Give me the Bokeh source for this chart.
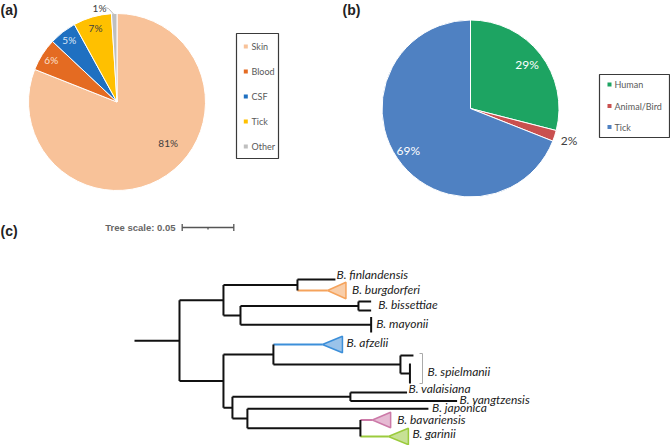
import numpy as np
from bokeh.plotting import figure
from bokeh.models import Range1d
from bokeh.core.properties import value
from bokeh.embed import file_html
from bokeh.resources import INLINE

# ---------------- data ----------------
a_categories = ["Skin", "Blood", "CSF", "Tick", "Other"]
a_values = [81, 6, 5, 7, 1]
a_labels = ["81%", "6%", "5%", "7%", "1%"]

b_categories = ["Human", "Animal/Bird", "Tick"]
b_values = [29, 2, 69]
b_labels = ["29%", "2%", "69%"]

tree_scale_value = 0.05

def node(name, bl, children=(), clade=None, color="#111111"):
    return {"name": name, "bl": bl, "children": list(children), "clade": clade, "color": color}

# branch lengths (substitutions/site) read from the tree
tree = node("root", 0.0436, [
    node("", 0.0426, [
        node("", 0.0717, [
            node("B. finlandensis", 0.0368),
            node("B. burgdorferi", 0.0291, clade=0.0179, color="#F5A35C")]),
        node("", 0.0165, [
            node("B. bissettiae", 0.1143, [node("bis1", 0.0123), node("bis2", 0.0123)]),
            node("B. mayonii", 0.1266, [node("may1", 0.0), node("may2", 0.0)])])]),
    node("", 0.0426, [
        node("", 0.0484, [
            node("B. afzelii", 0.0475, clade=0.0194, color="#3C8FD9"),
            node("B. spielmanii", 0.1231, [
                node("spi1", 0.0126),
                node("", 0.0092, [node("spi2", 0.0), node("spi3", 0.0)])])]),
        node("", 0.0087, [
            node("", 0.1143, [node("B. valaisiana", 0.0549), node("B. yangtzensis", 0.1034)]),
            node("", 0.0145, [
                node("B. japonica", 0.1754),
                node("", 0.1095, [
                    node("B. bavariensis", 0.0116, clade=0.0177, color="#CC7AA8"),
                    node("B. garinii", 0.0271, clade=0.0194, color="#9BCB3C")])])])]),
])

# ---------------- layout / style ----------------
a_colors = ["#F8C299", "#E46B22", "#1F70C1", "#FFC000", "#BFBFBF"]
b_colors = ["#1DA462", "#C9504F", "#4F81C2"]
clade_fill = {"#F5A35C": "#F8C9A0", "#3C8FD9": "#8FBDE8", "#CC7AA8": "#E3B3CE", "#9BCB3C": "#C1DE8A"}

tip_y = {"B. finlandensis": 279, "B. burgdorferi": 290, "bis1": 301, "bis2": 310,
         "may1": 316.5, "may2": 332, "B. afzelii": 344, "spi1": 355, "spi2": 363, "spi3": 383,
         "B. valaisiana": 392, "B. yangtzensis": 400.5, "B. japonica": 408.3,
         "B. bavariensis": 419.5, "B. garinii": 436}
clade_half = {"B. burgdorferi": 8.3, "B. afzelii": 8.3, "B. bavariensis": 7.8, "B. garinii": 8.2}
label_off = {"B. finlandensis": (1, -5.5), "B. burgdorferi": (6, -0.7), "B. bissettiae": (7, -2),
             "B. mayonii": (5, -1), "B. afzelii": (4, -2), "B. valaisiana": (1.5, -4),
             "B. yangtzensis": (2.5, -2), "B. japonica": (3.5, -1.5), "B. bavariensis": (6.5, -1),
             "B. garinii": (4, -3)}

W, H = 670, 445
p = figure(width=W, height=H, x_range=Range1d(0, W), y_range=Range1d(H, 0),
           output_backend="svg", toolbar_location=None, min_border=0)
p.axis.visible = False
p.grid.visible = False
p.outline_line_color = None
p.background_fill_color = "white"

FONT = value("Lato")


def pie(cx, cy, r, vals, colors):
    vals = np.asarray(vals, dtype=float)
    frac = vals / vals.sum()
    c1 = np.cumsum(frac)
    c0 = c1 - frac
    # clockwise from 12 o'clock; wedge angles anticlockwise from 3 o'clock on screen
    start = np.pi / 2 - 2 * np.pi * c1
    end = np.pi / 2 - 2 * np.pi * c0
    p.wedge(x=[cx] * len(vals), y=[cy] * len(vals), radius=r, radius_units="screen",
            start_angle=start, end_angle=end, direction="anticlock",
            fill_color=colors, line_color="white", line_width=1)
    return (c0 + c1) / 2


def label_at(cx, cy, r, mid, rf, txt, color, size, ang_shift=0.0):
    th = 2 * np.pi * mid + ang_shift
    x = cx + rf * r * np.sin(th)
    y = cy - rf * r * np.cos(th)
    p.text(x=[x], y=[y], text=[txt], text_align="center", text_baseline="middle",
           text_font=FONT, text_font_size=size, text_color=color)


# ---- pie (a)
acx, acy, ar = 116.5, 101.5, 88.5
amid = pie(acx, acy, ar, a_values, a_colors)
a_lab_rf = [0.74, 0.88, 0.88, 0.87, None]
a_lab_col = ["#404040", "#FBE0CF", "#DCE8F6", "#404040", "#404040"]
a_shift = [-0.30, 0, 0, 0, 0]
for i in range(4):
    label_at(acx, acy, ar, amid[i], a_lab_rf[i], a_labels[i], a_lab_col[i], "10px", a_shift[i])
p.text(x=[99], y=[7], text=[a_labels[4]], text_align="center", text_baseline="middle",
       text_font=FONT, text_font_size="10px", text_color="#404040")
p.line(x=[104.5, 108, 113], y=[7, 8, 13.5], line_color="#A6A6A6", line_width=0.8)

# legend (a)
p.quad(left=[236], right=[278], top=[33], bottom=[158], fill_color=None,
       line_color="#3A3A3A", line_width=1.2)
ay = [46, 71, 96, 121, 146]
p.rect(x=[245.3] * 5, y=ay, width=4, height=4, fill_color=a_colors, line_color=None)
p.text(x=[251] * 5, y=ay, text=a_categories, text_baseline="middle", text_font=FONT,
       text_font_size="9px", text_color="#595959")

# ---- pie (b)
bcx, bcy, br = 470, 108, 88.5
bmid = pie(bcx, bcy, br, b_values, b_colors)
label_at(bcx, bcy, br, bmid[0], 0.81, b_labels[0], "white", "12px")
label_at(bcx, bcy, br, bmid[1], 1.17, b_labels[1], "#404040", "12px")
label_at(bcx, bcy, br, bmid[2], 0.85, b_labels[2], "white", "12px")

# legend (b)
p.quad(left=[599], right=[669], top=[74], bottom=[137], fill_color=None,
       line_color="#3A3A3A", line_width=1.2)
by = [84, 105.5, 126.5]
p.rect(x=[609] * 3, y=by, width=4, height=4, fill_color=b_colors, line_color=None)
p.text(x=[614] * 3, y=by, text=b_categories, text_baseline="middle", text_font=FONT,
       text_font_size="9px", text_color="#595959")

# panel letters
p.text(x=[0, 342, 0], y=[9, 9, 230], text=["(a)", "(b)", "(c)"], text_baseline="middle",
       text_font=value("Liberation Sans"), text_font_style="bold", text_font_size="14px",
       text_color="#222222")

# ---- tree
K = 51.6 / tree_scale_value     # pixels per unit of branch length
x0 = 134.0
hx0, hx1, hy, vx, vy0, vy1, hcol = [], [], [], [], [], [], []
tri_xs, tri_ys, tri_line, tri_fill = [], [], [], []
labels = []


def set_y(n):
    if n["children"]:
        ys = [set_y(c) for c in n["children"]]
        n["y"] = (min(ys) + max(ys)) / 2
    else:
        n["y"] = tip_y[n["name"]]
    return n["y"]


def layout(n, xp):
    xn = xp + n["bl"] * K
    n["x"] = xn
    hx0.append(xp); hx1.append(xn); hy.append(n["y"]); hcol.append(n["color"])
    end = xn
    if n["clade"] is not None:
        xb = xn + n["clade"] * K
        h = clade_half[n["name"]]
        tri_xs.append([xn, xb, xb]); tri_ys.append([n["y"], n["y"] - h, n["y"] + h])
        tri_line.append(n["color"]); tri_fill.append(clade_fill[n["color"]])
        end = xb
    if n["children"]:
        ys = [c["y"] for c in n["children"]]
        vx.append(xn); vy0.append(min(ys)); vy1.append(max(ys))
        end = max(layout(c, xn) for c in n["children"])
    if n["name"] in label_off:
        dx, dy = label_off[n["name"]]
        labels.append((end + dx, n["y"] + dy, n["name"]))
    n["end"] = end
    return end


set_y(tree)
layout(tree, x0)

p.segment(x0=hx0, y0=hy, x1=hx1, y1=hy, line_color=hcol, line_width=2)
p.segment(x0=vx, y0=vy0, x1=vx, y1=vy1, line_color="#111111", line_width=2)
p.patches(xs=tri_xs, ys=tri_ys, fill_color=tri_fill, line_color=tri_line, line_width=1.5,
          fill_alpha=0.9)
p.text(x=[l[0] for l in labels], y=[l[1] for l in labels], text=[l[2] for l in labels],
       text_baseline="middle", text_font=FONT, text_font_style="italic",
       text_font_size="12px", text_color="#222222")

# spielmanii bracket & label
bx = 422
p.line(x=[bx - 3, bx, bx, bx - 3], y=[353, 353, 383, 383], line_color="#AAAAAA", line_width=1)
p.text(x=[bx + 5], y=[370.5], text=["B. spielmanii"], text_baseline="middle", text_font=FONT,
       text_font_style="italic", text_font_size="12px", text_color="#222222")

# tree scale
sx0 = 181.7
sx1 = sx0 + tree_scale_value * K
sy = 227
p.segment(x0=[sx0, sx0, sx1, (sx0 + sx1) / 2], y0=[sy, sy - 3.5, sy - 3.5, sy],
          x1=[sx1, sx0, sx1, (sx0 + sx1) / 2], y1=[sy, sy + 3.5, sy + 3.5, sy + 2],
          line_color="#555555", line_width=1.3)
p.text(x=[175], y=[sy], text=["Tree scale: 0.05"], text_align="right", text_baseline="middle",
       text_font=value("Liberation Sans"), text_font_style="bold", text_font_size="9.5px",
       text_color="#666666")

open("out.html", "w").write(file_html(p, INLINE))
